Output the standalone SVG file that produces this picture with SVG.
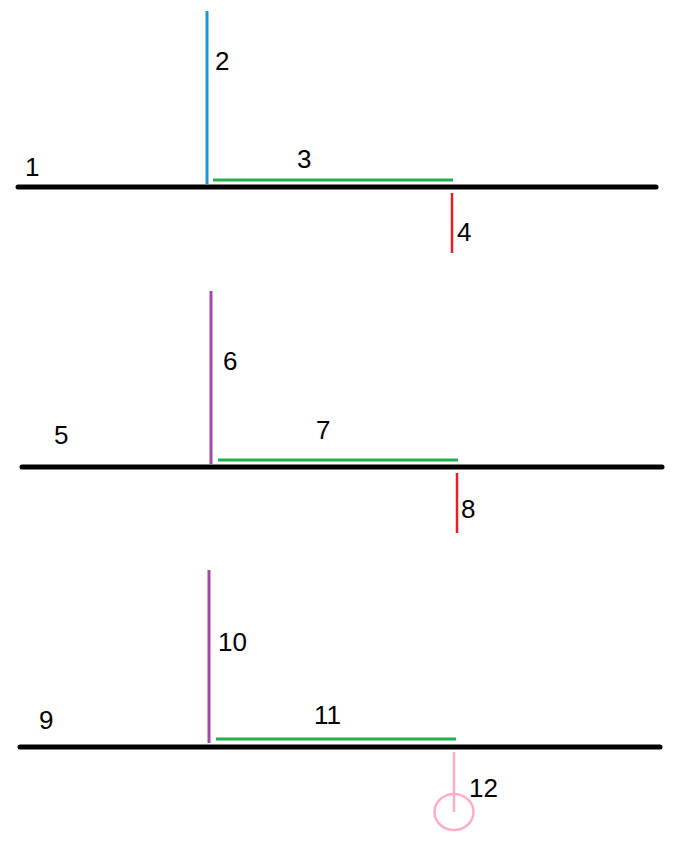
<svg xmlns="http://www.w3.org/2000/svg" width="684" height="843" viewBox="0 0 684 843">
<style>
.lbl{font-family:"Liberation Sans",Arial,sans-serif;font-size:26px;fill:#000}
.base{stroke:#000;stroke-width:5;stroke-linecap:round;fill:none}
.green{stroke:#22b14c;stroke-width:3;fill:none}
.red{stroke:#ed1c24;stroke-width:2.5;fill:none}
.blue{stroke:#1f97d4;stroke-width:3;fill:none}
.purple{stroke:#a349a4;stroke-width:3;fill:none}
.pink{stroke:#ffaec9;stroke-width:2.5;fill:none}
</style>
<rect width="684" height="843" fill="#fff"/>
<g id="connectors">
<line id="c1" class="base" x1="18" y1="187" x2="656" y2="187"/>
<line id="c2" class="blue" x1="207" y1="11" x2="207" y2="184"/>
<line id="c3" class="green" x1="213" y1="180" x2="453" y2="180"/>
<line id="c4" class="red" x1="452" y1="193" x2="452" y2="253"/>
<line id="c5" class="base" x1="22" y1="467" x2="662" y2="467"/>
<line id="c6" class="purple" x1="211" y1="291" x2="211" y2="464"/>
<line id="c7" class="green" x1="218" y1="460" x2="458" y2="460"/>
<line id="c8" class="red" x1="457" y1="473" x2="457" y2="533"/>
<line id="c9" class="base" x1="20" y1="747" x2="660" y2="747"/>
<line id="c10" class="purple" x1="209" y1="570" x2="209" y2="743"/>
<line id="c11" class="green" x1="216" y1="739" x2="456" y2="739"/>
<line id="c12" class="pink" x1="454" y1="752" x2="454" y2="812"/>
</g>
<g id="n12-circle"><ellipse class="pink" cx="454" cy="812" rx="19.5" ry="18"/></g>
<g id="n1"><text class="lbl" x="25" y="176">1</text></g>
<g id="n2"><text class="lbl" x="215" y="70">2</text></g>
<g id="n3"><text class="lbl" x="297" y="168">3</text></g>
<g id="n4"><text class="lbl" x="457" y="241">4</text></g>
<g id="n5"><text class="lbl" x="54" y="444">5</text></g>
<g id="n6"><text class="lbl" x="223" y="370">6</text></g>
<g id="n7"><text class="lbl" x="316" y="439">7</text></g>
<g id="n8"><text class="lbl" x="461" y="518">8</text></g>
<g id="n9"><text class="lbl" x="39" y="729">9</text></g>
<g id="n10"><text class="lbl" x="218" y="651">10</text></g>
<g id="n11"><text class="lbl" x="314" y="724">11</text></g>
<g id="n12"><text class="lbl" x="469" y="797">12</text></g>
</svg>
